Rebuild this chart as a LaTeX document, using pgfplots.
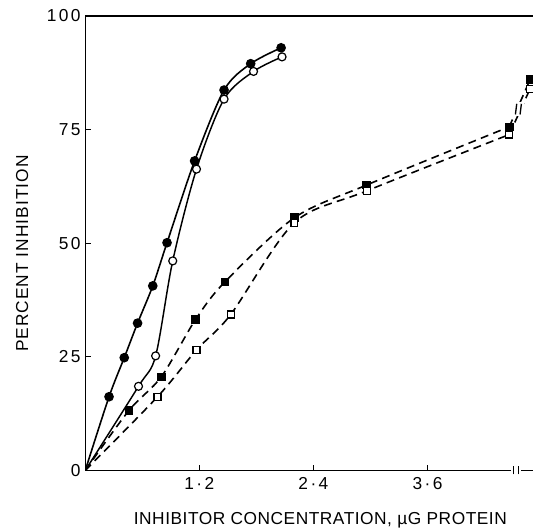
\documentclass[border=0pt]{standalone}
\usepackage{fontspec}
\setmainfont{Liberation Sans}
\newfontfamily\tickfont[LetterSpace=14]{Liberation Sans}
\newfontfamily\labfont[LetterSpace=6]{Liberation Sans}
\newfontfamily\xlabfont[LetterSpace=3]{Liberation Sans}
\usepackage{pgfplots}
\pgfplotsset{compat=1.18}
\usetikzlibrary{calc}
\begin{document}
\begin{tikzpicture}
\begin{axis}[
  scale only axis, width=336pt, height=341pt,
  xmin=0, xmax=4.71, ymin=0, ymax=100,
  axis x line*=bottom, axis y line*=left,
  axis line style={-, line width=0.9pt},
  xtick={1.2,2.4,3.6}, xticklabels={1·2,2·4,3·6},
  ytick={0,25,50,75,100},
  tick align=inside, major tick length=4pt,
  tick style={line width=0.8pt, black},
  /pgf/number format/assume math mode=true,
  ticklabel style={font=\tickfont\fontsize{13}{15}\selectfont},
  xticklabel style={yshift=-2pt},
  xlabel={INHIBITOR CONCENTRATION, µG PROTEIN},
  ylabel={PERCENT INHIBITION},
  xlabel style={font=\xlabfont\fontsize{13}{15}\selectfont, at={(axis description cs:0.525,-0.109)}, anchor=center},
  ylabel style={font=\labfont\fontsize{13}{15}\selectfont, at={(axis description cs:-0.141,0.477)}, anchor=center},
]
% filled circles, solid
\addplot[black, line width=1.2pt, smooth, tension=0.5, mark=*, mark size=3pt,
  mark indices={2,3,4,5,6,7,8,9,10}] coordinates {
  (0,0) (0.25,16.2) (0.41,24.8) (0.55,32.4) (0.71,40.6) (0.86,50.1)
  (1.15,68.1) (1.46,83.7) (1.74,89.5) (2.06,93.0)};
% open circles, solid
\addplot[black, line width=1.1pt, smooth, tension=0.5, mark=*, mark size=3pt,
  mark options={fill=white, line width=0.9pt},
  mark indices={2,3,4,5,6,7,8,9}] coordinates {
  (0,0) (0.56,18.5) (0.74,25.2) (0.92,46.1) (1.17,66.3)
  (1.46,81.7) (1.77,87.8) (2.07,91.0)};
% filled squares, dashed
\addplot[black, line width=1.2pt, dash pattern=on 6pt off 4pt, smooth, tension=0.5,
  mark=square*, mark size=2.6pt, mark options={solid},
  mark indices={2,3,4,5,6,7,8}] coordinates {
  (0,0) (0.46,13.2) (0.8,20.6) (1.16,33.2) (1.47,41.5) (2.2,55.6)
  (2.96,62.8) (4.46,75.6)};
\addplot[black, line width=1.2pt, dash pattern=on 6pt off 4pt,
  mark=square*, mark size=2.6pt, mark options={solid}] coordinates {
  (4.46,75.6) (4.68,86.0)};
% open squares, dashed
\addplot[black, line width=1.2pt, dash pattern=on 6pt off 4pt, smooth, tension=0.5,
  mark=square*, mark size=2.6pt, mark options={solid, fill=white, line width=0.9pt},
  mark indices={2,3,4,5,6,7}] coordinates {
  (0,0) (0.76,16.2) (1.17,26.5) (1.53,34.3) (2.2,54.5)
  (2.96,61.5) (4.46,73.9)};
\addplot[black, line width=1.2pt, dash pattern=on 6pt off 4pt,
  mark=square*, mark size=2.6pt, mark options={solid, fill=white, line width=0.9pt}] coordinates {
  (4.46,73.9) (4.68,84.0)};
\coordinate (bl) at (rel axis cs:0,0);
\coordinate (tl) at (rel axis cs:0,1);
\coordinate (tr) at (rel axis cs:1,1);
\coordinate (xb) at (axis cs:4.53,0);
\coordinate (db) at (axis cs:4.56,79.5);
\end{axis}
\draw[line width=0.9pt] (tl) -- (tr);
% axis break
\fill[white] ($(xb)+(-4pt,-1.5pt)$) rectangle ($(xb)+(4pt,1.5pt)$);
\draw[line width=0.9pt] ($(xb)+(-1.8pt,-3pt)$) -- ($(xb)+(-1.8pt,3pt)$);
\draw[line width=0.9pt] ($(xb)+(1.8pt,-3pt)$) -- ($(xb)+(1.8pt,3pt)$);
% line break marks
\fill[white] ($(db)+(-4pt,-5pt)$) rectangle ($(db)+(4pt,5pt)$);
\draw[line width=1pt] ($(db)+(-2.5pt,-4pt)$) -- ($(db)+(-1.5pt,4pt)$);
\draw[line width=1pt] ($(db)+(1pt,-4pt)$) -- ($(db)+(2pt,4pt)$);
\pgfresetboundingbox
\path[use as bounding box] ($(bl)+(-64pt,-43pt)$) rectangle ($(tr)+(0pt,12pt)$);
\end{tikzpicture}
\end{document}
